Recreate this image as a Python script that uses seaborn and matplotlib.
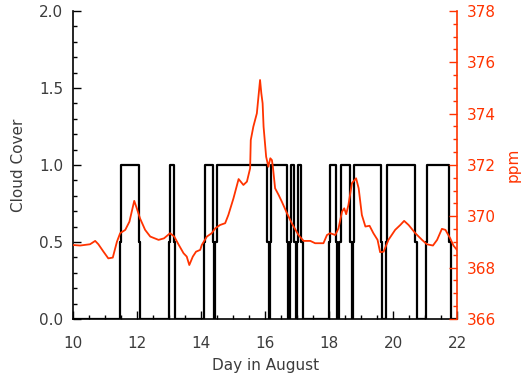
import numpy as np
import pandas as pd
import seaborn as sns
import matplotlib.pyplot as plt
from matplotlib.ticker import MultipleLocator

# cloud cover pulses: 0 -> 0.5 -> 1 -> 0.5 -> 0 (day in August)
rise_start = [11.46, 13.00, 14.08, 14.43, 16.15, 16.77, 17.00, 17.98, 18.32, 18.73, 19.76, 21.03]
rise_end = [11.50, 13.03, 14.12, 14.48, 16.18, 16.80, 17.04, 18.01, 18.36, 18.77, 19.80, 21.06]
fall_start = [12.06, 13.16, 14.36, 16.06, 16.67, 16.91, 17.13, 18.20, 18.65, 19.61, 20.68, 21.75]
fall_end = [12.10, 13.19, 14.40, 16.11, 16.72, 16.95, 17.17, 18.24, 18.71, 19.66, 20.73, 21.79]

# CO2 concentration (ppm)
co2_day = [10.01, 10.22, 10.53, 10.69, 10.79, 10.95, 11.10, 11.24, 11.37, 11.47,
           11.63, 11.76, 11.91, 11.99, 12.09, 12.25, 12.41, 12.67, 12.84, 13.03,
           13.16, 13.29, 13.45, 13.55, 13.63, 13.74, 13.84, 13.97, 14.02, 14.18,
           14.33, 14.44, 14.59, 14.75, 14.85, 15.01, 15.17, 15.32, 15.43, 15.53,
           15.55, 15.63, 15.74, 15.84, 15.88, 15.92, 15.95, 16.03, 16.10, 16.16,
           16.21, 16.24, 16.31, 16.42, 16.52, 16.68, 16.83, 17.04, 17.20, 17.41,
           17.56, 17.82, 17.93, 18.03, 18.19, 18.29, 18.40, 18.47, 18.53, 18.60,
           18.71, 18.84, 18.92, 19.02, 19.13, 19.26, 19.38, 19.51, 19.59, 19.70,
           19.85, 20.06, 20.22, 20.34, 20.48, 20.69, 20.90, 21.05, 21.24, 21.37,
           21.52, 21.63, 21.78, 21.88, 21.99]
co2_ppm = [368.88, 368.86, 368.91, 369.04, 368.91, 368.62, 368.36, 368.39, 369.01, 369.34,
           369.47, 369.79, 370.60, 370.31, 369.92, 369.47, 369.21, 369.08, 369.14, 369.34,
           369.21, 368.91, 368.56, 368.43, 368.10, 368.43, 368.62, 368.69, 368.88, 369.21,
           369.34, 369.53, 369.66, 369.73, 370.05, 370.70, 371.45, 371.22, 371.35, 371.87,
           372.97, 373.49, 374.01, 375.31, 374.79, 374.40, 373.49, 372.32, 371.93, 372.26,
           372.19, 371.93, 371.09, 370.83, 370.57, 370.12, 369.73, 369.27, 369.04, 369.04,
           368.95, 368.95, 369.27, 369.34, 369.27, 369.53, 370.18, 370.31, 370.08, 370.44,
           371.29, 371.48, 371.09, 370.05, 369.60, 369.63, 369.34, 369.08, 368.60, 368.62,
           369.08, 369.47, 369.66, 369.82, 369.66, 369.34, 369.08, 368.91, 368.86, 369.08,
           369.51, 369.47, 369.14, 368.86, 368.69]

RED = '#ff3300'
GREY = '#3c3c3c'


def build_cloud_steps():
    days = [10.0]
    cover = [0.0]
    for r0, r1, f0, f1 in zip(rise_start, rise_end, fall_start, fall_end):
        days += [r0, r1, f0, f1]
        cover += [0.5, 1.0, 0.5, 0.0]
    days.append(22.0)
    cover.append(0.0)
    return pd.DataFrame({'day': days, 'cover': cover})


def main():
    sns.set_style("ticks")
    plt.rcParams['font.family'] = ['DejaVu Sans']
    plt.rcParams['text.color'] = GREY
    plt.rcParams['axes.labelcolor'] = GREY
    plt.rcParams['xtick.labelcolor'] = GREY
    plt.rcParams['ytick.labelcolor'] = GREY

    fig = plt.figure(figsize=(5.22, 3.77), dpi=100)
    ax = fig.add_axes([0.140, 0.154, 0.736, 0.817])

    df_cloud = build_cloud_steps()
    sns.lineplot(data=df_cloud, x='day', y='cover', ax=ax, color='black',
                 linewidth=1.6, drawstyle='steps-post', estimator=None, sort=False)
    ax.set_xlim(10, 22)
    ax.set_ylim(0, 2)
    ax.xaxis.set_major_locator(MultipleLocator(2))
    ax.xaxis.set_minor_locator(MultipleLocator(0.5))
    ax.yaxis.set_major_locator(MultipleLocator(0.5))
    ax.yaxis.set_minor_locator(MultipleLocator(0.1))
    ax.yaxis.set_major_formatter(plt.FormatStrFormatter('%.1f'))
    ax.set_xlabel('Day in August', fontsize=11, labelpad=5)
    ax.set_ylabel('Cloud Cover', fontsize=11)
    ax.yaxis.set_label_coords(-0.122, 0.5)
    for side in ['top', 'right']:
        ax.spines[side].set_visible(False)
    for side in ['left', 'bottom']:
        ax.spines[side].set_color('black')
        ax.spines[side].set_linewidth(1.2)

    ax2 = ax.twinx()
    df_co2 = pd.DataFrame({'day': co2_day, 'ppm': co2_ppm})
    sns.lineplot(data=df_co2, x='day', y='ppm', ax=ax2, color=RED,
                 linewidth=1.3, estimator=None, sort=False)
    ax2.set_ylim(366, 378)
    ax2.set_xlim(10, 22)
    ax2.yaxis.set_major_locator(MultipleLocator(2))
    ax2.yaxis.set_minor_locator(MultipleLocator(0.5))
    ax2.set_ylabel('ppm', color=RED, fontsize=11)
    ax2.yaxis.set_label_coords(1.125, 0.5)
    for side in ['top', 'left', 'bottom']:
        ax2.spines[side].set_visible(False)
    ax2.spines['right'].set_color(RED)
    ax2.spines['right'].set_linewidth(1.2)

    # ticks point into the plot, IDL style
    ax.tick_params(axis='both', which='both', direction='in', color='black',
                   labelcolor=GREY, labelsize=11, width=1)
    ax.tick_params(axis='both', which='major', length=6)
    ax.tick_params(axis='both', which='minor', length=3.2)
    ax.tick_params(axis='x', which='both', pad=12)
    ax.tick_params(axis='y', which='both', pad=7)
    ax2.tick_params(axis='y', which='both', direction='in', color=RED,
                    labelcolor=RED, labelsize=11, width=1, pad=7)
    ax2.tick_params(axis='y', which='major', length=6)
    ax2.tick_params(axis='y', which='minor', length=3.2)

    # end labels sit inside the axis range
    fig.canvas.draw()
    yt = ax.yaxis.get_major_ticks()
    yt[0].label1.set_va('bottom')
    yt[-1].label1.set_va('top')
    yt2 = ax2.yaxis.get_major_ticks()
    yt2[0].label2.set_va('bottom')
    yt2[-1].label2.set_va('top')

    fig.savefig('out.png', dpi=100)


if __name__ == "__main__":
    main()
